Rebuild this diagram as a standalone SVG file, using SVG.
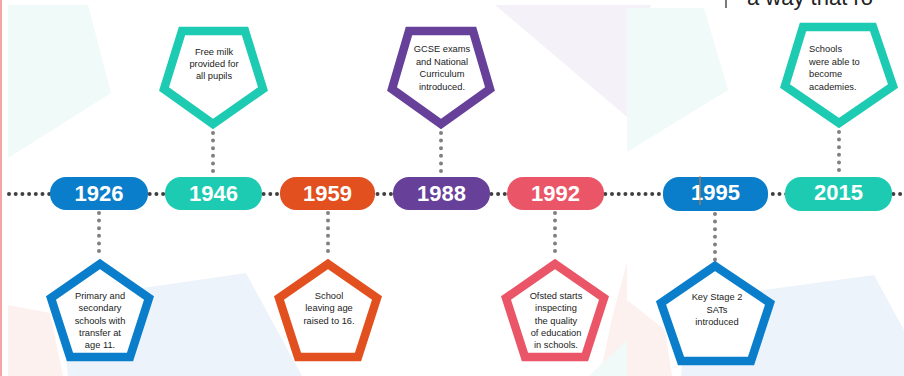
<svg xmlns="http://www.w3.org/2000/svg" width="904" height="376" viewBox="0 0 904 376">
<style>
.year{font-family:"Liberation Sans",Arial,sans-serif;font-weight:bold;font-size:22px;fill:#ffffff;text-anchor:middle}
.lbl{font-family:"Liberation Sans",Arial,sans-serif;font-size:9.3px;fill:#222222;text-anchor:middle}
.lbll{font-family:"Liberation Sans",Arial,sans-serif;font-size:9.3px;fill:#222222}
.pent{fill:#ffffff;stroke-width:8.5;stroke-linejoin:miter}
.vdots{stroke:#808080;stroke-width:4;stroke-linecap:round;stroke-dasharray:0 7.6;fill:none}
.hdots{stroke:#404040;stroke-width:4;stroke-linecap:round;stroke-dasharray:0 6.7;fill:none}
</style>
<rect x="0" y="0" width="904" height="376" fill="#ffffff"/>
<g id="background">
<polygon points="8,5 88,5 111,93 8,158" fill="#f0faf8"/>
<polygon points="495,5 651,5 627,117" fill="#f4f2f8"/>
<polygon points="627,8 704,8 728,90 627,152" fill="#f0faf8"/>
<polygon points="8,305 50,313 63,376 8,376" fill="#fcf1ef"/>
<polygon points="60,300 246,273 302,376 68,376" fill="#edf3fa"/>
<polygon points="612,318 627,262 627,376 600,376" fill="#fcf1ef"/>
<polygon points="589,376 627,340 627,376" fill="#f0faf8"/>
<polygon points="627,300 665,330 672,376 627,376" fill="#fcf1ef"/>
<polygon points="681,376 690,300 874,275 904,330 904,376" fill="#edf3fa"/>
<rect x="0" y="0" width="2" height="376" fill="#f6a5a5"/>
<line x1="726" y1="0" x2="726" y2="8" stroke="#222222" stroke-width="1.2"/>
<text x="747" y="5" font-family="'Liberation Sans',Arial,sans-serif" font-size="22" fill="#222222">a way that ro</text>
</g>
<g id="connectors">
<line class="hdots" x1="9" y1="194" x2="904" y2="194"/>
<line class="vdots" x1="213" y1="133" x2="213" y2="174"/>
<line class="vdots" x1="441" y1="133" x2="441" y2="174"/>
<line class="vdots" x1="839" y1="132" x2="839" y2="174"/>
<line class="vdots" x1="99" y1="213" x2="99" y2="258"/>
<line class="vdots" x1="328" y1="213" x2="328" y2="258"/>
<line class="vdots" x1="555" y1="213" x2="555" y2="258"/>
<line class="vdots" x1="715" y1="214" x2="715" y2="260"/>
</g>
<g id="y1926">
<rect x="50" y="177" width="98" height="33" rx="16" fill="#0b7ecb"/>
<text class="year" x="99" y="201">1926</text>
</g>
<g id="y1946">
<rect x="165" y="177" width="97" height="33" rx="16" fill="#1ccbb1"/>
<text class="year" x="213.5" y="201">1946</text>
</g>
<g id="y1959">
<rect x="280" y="177" width="95" height="33" rx="16" fill="#e2501f"/>
<text class="year" x="327.5" y="201">1959</text>
</g>
<g id="y1988">
<rect x="393" y="177" width="97" height="33" rx="16" fill="#67409a"/>
<text class="year" x="441.5" y="201">1988</text>
</g>
<g id="y1992">
<rect x="507" y="177" width="97" height="33" rx="16" fill="#ea5668"/>
<text class="year" x="555.5" y="201">1992</text>
</g>
<g id="y1995">
<rect x="663" y="177" width="105" height="34" rx="16" fill="#0b7ecb"/>
<text class="year" x="715.5" y="200">1995</text>
<line x1="700" y1="176" x2="700" y2="205" stroke="#e07a2a" stroke-width="1"/>
</g>
<g id="y2015">
<rect x="785" y="177" width="107" height="34" rx="16" fill="#1ccbb1"/>
<text class="year" x="838.5" y="200">2015</text>
</g>
<g id="n1946">
<polygon class="pent" stroke="#1ccbb1" points="182,31 245,31 263,89 213,124 164,89"/>
<text class="lbl" x="214" y="55">Free milk</text>
<text class="lbl" x="214" y="67">provided for</text>
<text class="lbl" x="214" y="79">all pupils</text>
</g>
<g id="n1988">
<polygon class="pent" stroke="#67409a" points="409,31 473,31 490,89 441,124 392,89"/>
<text class="lbl" x="442" y="52">GCSE exams</text>
<text class="lbl" x="442" y="64.5">and National</text>
<text class="lbl" x="442" y="77">Curriculum</text>
<text class="lbl" x="442" y="89.5">introduced.</text>
</g>
<g id="n2015">
<polygon class="pent" stroke="#1ccbb1" points="803,27 873,27 893,86 839,123 785,86"/>
<text class="lbll" x="809" y="52">Schools</text>
<text class="lbll" x="809" y="64.5">were able to</text>
<text class="lbll" x="809" y="77">become</text>
<text class="lbll" x="809" y="89.5">academies.</text>
</g>
<g id="n1926">
<polygon class="pent" stroke="#0b7ecb" points="100,264 149,298 130,357 70,357 51,298"/>
<text class="lbl" x="100" y="299">Primary and</text>
<text class="lbl" x="100" y="311.3">secondary</text>
<text class="lbl" x="100" y="323.6">schools with</text>
<text class="lbl" x="100" y="336">transfer at</text>
<text class="lbl" x="100" y="348.3">age 11.</text>
</g>
<g id="n1959">
<polygon class="pent" stroke="#e2501f" points="328,264 377,298 358,357 298,357 279,298"/>
<text class="lbl" x="329" y="299">School</text>
<text class="lbl" x="329" y="311.3">leaving age</text>
<text class="lbl" x="329" y="323.6">raised to 16.</text>
</g>
<g id="n1992">
<polygon class="pent" stroke="#ea5668" points="555,264 604,298 585,357 525,357 506,298"/>
<text class="lbl" x="556" y="299">Ofsted starts</text>
<text class="lbl" x="556" y="311.3">inspecting</text>
<text class="lbl" x="556" y="323.6">the quality</text>
<text class="lbl" x="556" y="336">of education</text>
<text class="lbl" x="556" y="348.3">in schools.</text>
</g>
<g id="n1995">
<polygon class="pent" stroke="#0b7ecb" points="715,266 770,303 751,361 681,361 661,303"/>
<text class="lbl" x="717" y="300">Key Stage 2</text>
<text class="lbl" x="717" y="312.5">SATs</text>
<text class="lbl" x="717" y="325">introduced</text>
</g>
</svg>
